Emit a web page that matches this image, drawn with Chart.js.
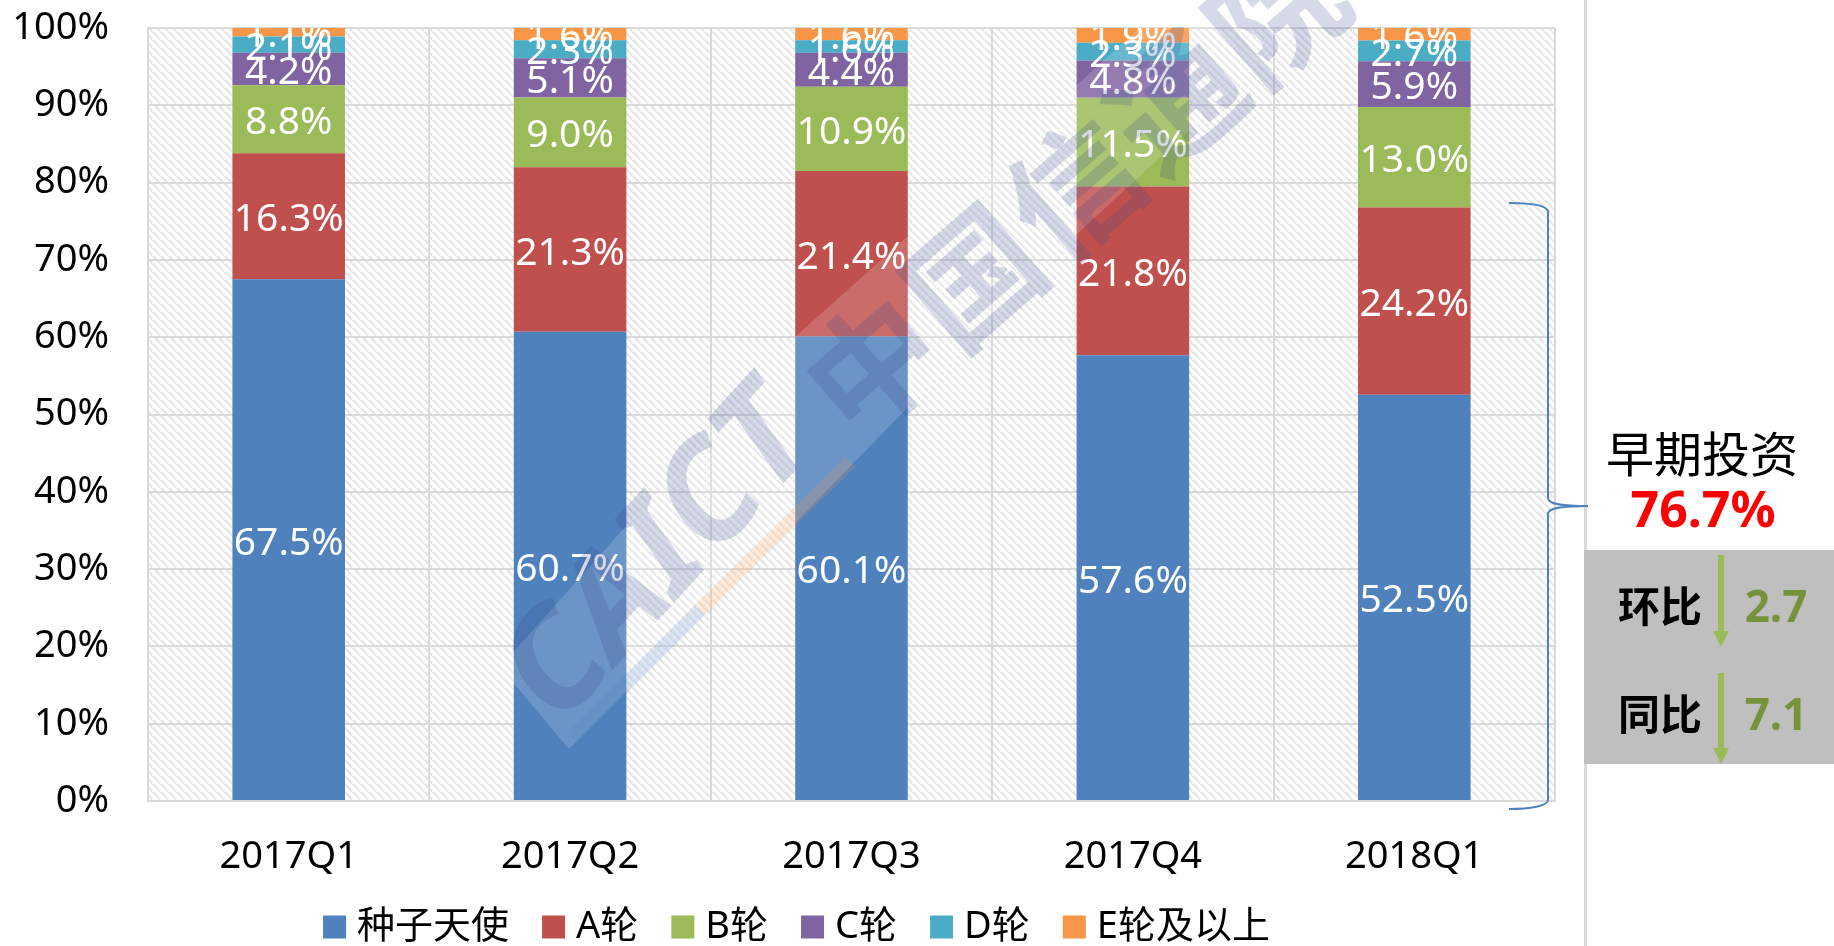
<!DOCTYPE html>
<html>
<head>
<meta charset="utf-8">
<title>早期投资</title>
<script src="https://cdn.jsdelivr.net/npm/chart.js@4"></script>
<style>
    html, body { margin: 0; padding: 0; background: #fff; }
    canvas { display: block; }
</style>
</head>
<body>
<canvas id="chart" width="1834" height="946"></canvas>
<script>
var categories = ['2017Q1', '2017Q2', '2017Q3', '2017Q4', '2018Q1'];
var seedAngel = [67.5, 60.7, 60.1, 57.6, 52.5];
var roundA = [16.3, 21.3, 21.4, 21.8, 24.2];
var roundB = [8.8, 9.0, 10.9, 11.5, 13.0];
var roundC = [4.2, 5.1, 4.4, 4.8, 5.9];
var roundD = [2.1, 2.3, 1.6, 2.3, 2.7];
var roundE = [1.1, 1.6, 1.6, 1.9, 1.6];

var seriesNames = ['种子天使', 'A轮', 'B轮', 'C轮', 'D轮', 'E轮及以上'];
var seriesValues = [seedAngel, roundA, roundB, roundC, roundD, roundE];
var seriesColors = ['#4F81BD', '#C0504D', '#9BBB59', '#8064A2', '#4BACC6', '#F79646'];

var FONT = '"Noto Sans", "Noto Sans CJK SC", sans-serif';
var GRID = '#D9D9D9';

// 100% stacked: each column is scaled to its own total
var totals = categories.map(function(c, i){
    return seriesValues.reduce(function(sum, s){ return sum + s[i]; }, 0);
});
var datasets = seriesNames.map(function(name, k){
    return {
        label: name,
        data: seriesValues[k].map(function(v, i){ return v / totals[i] * 100; }),
        backgroundColor: seriesColors[k],
        borderWidth: 0
    };
});

function hatchPattern(ctx){
    var c = document.createElement('canvas');
    c.width = 8;
    c.height = 8;
    var p = c.getContext('2d');
    p.fillStyle = '#E6E6E6';
    for(var i = 0; i < 8; i++){
        p.fillRect(i, i, 2, 1);
        p.fillRect((i + 2) % 8, i, 1, 1);
    }
    return ctx.createPattern(c, 'repeat');
}

var hatchBackground = {
    id: 'hatchBackground',
    beforeDraw: function(chart){
        var ctx = chart.ctx, a = chart.chartArea;
        ctx.save();
        ctx.fillStyle = '#fff';
        ctx.fillRect(0, 0, chart.width, chart.height);
        ctx.fillStyle = hatchPattern(ctx);
        ctx.fillRect(a.left, a.top, a.right - a.left, a.bottom - a.top);
        ctx.restore();
    }
};

var barLabels = {
    id: 'barLabels',
    afterDatasetsDraw: function(chart){
        var ctx = chart.ctx, a = chart.chartArea;
        ctx.save();
        // labels at the top of the stack get cut by the plot edge
        ctx.beginPath();
        ctx.rect(0, a.top, chart.width, chart.height);
        ctx.clip();
        ctx.fillStyle = '#fff';
        ctx.font = '39px ' + FONT;
        ctx.textAlign = 'center';
        ctx.textBaseline = 'middle';
        seriesValues.forEach(function(values, k){
            chart.getDatasetMeta(k).data.forEach(function(bar, i){
                ctx.fillText(values[i].toFixed(1) + '%', bar.x, (bar.y + bar.base) / 2 + 4);
            });
        });
        ctx.restore();
    }
};

var watermark = {
    id: 'watermark',
    afterDatasetsDraw: function(chart){
        var ctx = chart.ctx;
        ctx.save();
        // pale band
        ctx.fillStyle = 'rgba(255,255,255,0.16)';
        ctx.beginPath();
        ctx.moveTo(500, 667);
        ctx.lineTo(569, 749);
        ctx.lineTo(796, 522);
        ctx.lineTo(1077, 234);
        ctx.lineTo(1330, 0);
        ctx.lineTo(1170, 0);
        ctx.lineTo(1077, 85);
        ctx.lineTo(796, 336);
        ctx.closePath();
        ctx.fill();

        // underline of the logo
        ctx.lineWidth = 14;
        ctx.strokeStyle = 'rgba(79,129,189,0.2)';
        ctx.beginPath();
        ctx.moveTo(572, 738);
        ctx.lineTo(700, 610);
        ctx.stroke();
        ctx.strokeStyle = 'rgba(247,150,70,0.2)';
        ctx.beginPath();
        ctx.moveTo(700, 610);
        ctx.lineTo(850, 462);
        ctx.stroke();

        ctx.fillStyle = 'rgba(52,72,140,0.2)';
        ctx.textAlign = 'center';
        ctx.textBaseline = 'middle';
        ctx.save();
        ctx.translate(661, 558);
        ctx.rotate(-47.5 * Math.PI / 180);
        ctx.font = 'italic bold 140px ' + FONT;
        ctx.fillText('CAICT', 0, 0);
        ctx.restore();
        ctx.save();
        ctx.translate(1084, 197);
        ctx.rotate(-41 * Math.PI / 180);
        ctx.font = 'bold 130px ' + FONT;
        ctx.letterSpacing = '4px';
        ctx.fillText('中国信通院', 0, 0);
        ctx.restore();
        ctx.restore();
    }
};

function downArrow(ctx, x, y1, y2){
    ctx.fillStyle = '#9BBB59';
    ctx.fillRect(x - 3, y1, 6, y2 - y1 - 14);
    ctx.beginPath();
    ctx.moveTo(x - 8, y2 - 16);
    ctx.lineTo(x + 8, y2 - 16);
    ctx.lineTo(x, y2);
    ctx.closePath();
    ctx.fill();
}

function centerText(ctx, text, x, y, font, color){
    ctx.font = font;
    ctx.fillStyle = color;
    ctx.fillText(text, x, y);
}

var sidePanel = {
    id: 'sidePanel',
    afterDraw: function(chart){
        var ctx = chart.ctx;
        ctx.save();
        // separator
        ctx.fillStyle = GRID;
        ctx.fillRect(1584, 0, 3, chart.height);

        // brace
        ctx.strokeStyle = '#4F81BD';
        ctx.lineWidth = 2;
        ctx.beginPath();
        ctx.moveTo(1509, 203);
        ctx.bezierCurveTo(1530, 203, 1548, 205, 1548, 212);
        ctx.lineTo(1548, 498);
        ctx.bezierCurveTo(1548, 504, 1560, 506, 1588, 506);
        ctx.bezierCurveTo(1560, 506, 1548, 508, 1548, 514);
        ctx.lineTo(1548, 800);
        ctx.bezierCurveTo(1548, 806, 1530, 809, 1509, 809);
        ctx.stroke();

        // grey box
        ctx.fillStyle = '#BFBFBF';
        ctx.fillRect(1584, 550, 250, 214);

        downArrow(ctx, 1721, 555, 647);
        downArrow(ctx, 1721, 673, 764);

        ctx.textAlign = 'center';
        ctx.textBaseline = 'middle';
        centerText(ctx, '早期投资', 1702, 458, '48px ' + FONT, '#000');
        centerText(ctx, '76.7%', 1703, 513, 'bold 50px ' + FONT, '#FF0000');
        centerText(ctx, '环比', 1660, 610, 'bold 42px ' + FONT, '#000');
        centerText(ctx, '2.7', 1776, 609, 'bold 44px ' + FONT, '#76933C');
        centerText(ctx, '同比', 1660, 718, 'bold 42px ' + FONT, '#000');
        centerText(ctx, '7.1', 1776, 717, 'bold 44px ' + FONT, '#76933C');
        ctx.restore();
    }
};

// legend sits off the plot centre in the original, move it after layout
var legendShift = {
    id: 'legendShift',
    afterLayout: function(chart){
        var pad = chart.options.plugins.legend.labels.padding;
        chart.legend.left += 23;
        chart.legend.right += 23;
        chart.legend.top = 927 - 19 - pad;
    }
};

new Chart(document.getElementById('chart'), {
    type: 'bar',
    data: { labels: categories, datasets: datasets },
    plugins: [hatchBackground, barLabels, watermark, sidePanel, legendShift],
    options: {
        responsive: false,
        animation: false,
        layout: { autoPadding: false, padding: { top: 28, right: 279, bottom: -24, left: 0 } },
        datasets: { bar: { barPercentage: 0.4, categoryPercentage: 1 } },
        scales: {
            x: {
                stacked: true,
                grid: { color: GRID, lineWidth: 2, drawTicks: false },
                border: { color: GRID, width: 2 },
                ticks: { color: '#000', font: { family: FONT, size: 38 }, padding: 33, maxRotation: 0 },
                afterFit: function(scale){ scale.height = 80; }
            },
            y: {
                stacked: true,
                min: 0,
                max: 100,
                // label gap comes from an invisible tick mark, tick padding would eat into the plot height
                grid: { color: GRID, lineWidth: 2, drawTicks: true, tickLength: 39, tickColor: 'transparent' },
                border: { color: GRID, width: 2 },
                ticks: {
                    stepSize: 10,
                    color: '#000',
                    font: { family: FONT, size: 38 },
                    padding: 0,
                    callback: function(v){ return v + '%'; }
                },
                afterFit: function(scale){ scale.width = 148; }
            }
        },
        plugins: {
            tooltip: { enabled: false },
            legend: {
                position: 'bottom',
                labels: {
                    color: '#000',
                    font: { family: FONT, size: 38 },
                    // thick outline around a small box, keeps the label close to the swatch
                    boxWidth: 7,
                    boxHeight: 7,
                    padding: 41,
                    generateLabels: function(chart){
                        return Chart.defaults.plugins.legend.labels.generateLabels(chart).map(function(item){
                            item.lineWidth = 16;
                            item.strokeStyle = item.fillStyle;
                            return item;
                        });
                    }
                }
            }
        }
    }
});
</script>
</body>
</html>
